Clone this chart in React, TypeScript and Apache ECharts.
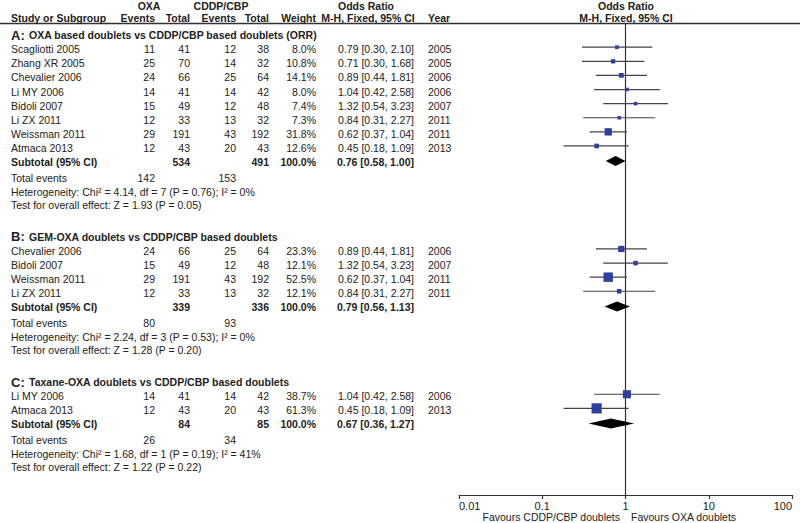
import { useEffect, useRef } from "react";
import * as echarts from "echarts";

// ---------------- DATA ----------------
const groupLetters = ["A:", "B:", "C:"];
const groupTitles = [
  "OXA based doublets vs CDDP/CBP based doublets (ORR)",
  "GEM-OXA doublets vs CDDP/CBP based doublets",
  "Taxane-OXA doublets vs CDDP/CBP based doublets",
];
const studyNames = [
  "Scagliotti 2005", "Zhang XR 2005", "Chevalier 2006", "Li MY 2006", "Bidoli 2007", "Li ZX 2011", "Weissman 2011", "Atmaca 2013",
  "Chevalier 2006", "Bidoli 2007", "Weissman 2011", "Li ZX 2011",
  "Li MY 2006", "Atmaca 2013",
];
const studyGroup = [0, 0, 0, 0, 0, 0, 0, 0, 1, 1, 1, 1, 2, 2];
const oxaEvents = [11, 25, 24, 14, 15, 12, 29, 12, 24, 15, 29, 12, 14, 12];
const oxaTotal = [41, 70, 66, 41, 49, 33, 191, 43, 66, 49, 191, 33, 41, 43];
const cddpEvents = [12, 14, 25, 14, 12, 13, 43, 20, 25, 12, 43, 13, 14, 20];
const cddpTotal = [38, 32, 64, 42, 48, 32, 192, 43, 64, 48, 192, 32, 42, 43];
const weights = [8.0, 10.8, 14.1, 8.0, 7.4, 7.3, 31.8, 12.6, 23.3, 12.1, 52.5, 12.1, 38.7, 61.3];
const oddsRatios = [0.79, 0.71, 0.89, 1.04, 1.32, 0.84, 0.62, 0.45, 0.89, 1.32, 0.62, 0.84, 1.04, 0.45];
const ciLow = [0.30, 0.30, 0.44, 0.42, 0.54, 0.31, 0.37, 0.18, 0.44, 0.54, 0.37, 0.31, 0.42, 0.18];
const ciHigh = [2.10, 1.68, 1.81, 2.58, 3.23, 2.27, 1.04, 1.09, 1.81, 3.23, 1.04, 2.27, 2.58, 1.09];
const years = [2005, 2005, 2006, 2006, 2007, 2011, 2011, 2013, 2006, 2007, 2011, 2011, 2006, 2013];

const subOxaTotal = [534, 339, 84];
const subCddpTotal = [491, 336, 85];
const subOR = [0.76, 0.79, 0.67];
const subLow = [0.58, 0.56, 0.36];
const subHigh = [1.00, 1.13, 1.27];
const totalEventsOxa = [142, 80, 26];
const totalEventsCddp = [153, 93, 34];
const heterogeneity = [
  "Heterogeneity: Chi\u00b2 = 4.14, df = 7 (P = 0.76); I\u00b2 = 0%",
  "Heterogeneity: Chi\u00b2 = 2.24, df = 3 (P = 0.53); I\u00b2 = 0%",
  "Heterogeneity: Chi\u00b2 = 1.68, df = 1 (P = 0.19); I\u00b2 = 41%",
];
const overallTests = [
  "Test for overall effect: Z = 1.93 (P = 0.05)",
  "Test for overall effect: Z = 1.28 (P = 0.20)",
  "Test for overall effect: Z = 1.22 (P = 0.22)",
];
const xTickLabels = ["0.01", "0.1", "1", "10", "100"];
const favoursLeft = "Favours CDDP/CBP doublets";
const favoursRight = "Favours OXA doublets";

// ---------------- LAYOUT ----------------
const FONT = '"Liberation Sans", Arial, sans-serif';
const F = (size: number, bold = false) => `${bold ? "bold " : ""}${size}px ${FONT}`;
const TXT = "#222";
const COL = { name: 11, oxaEv: 155, oxaTot: 190, cdEv: 236, cdTot: 269, weight: 316, or: 414, year: 428 };

const fmt2 = (v: number) => v.toFixed(2);
const ciText = (o: number, l: number, h: number) => `${fmt2(o)} [${fmt2(l)}, ${fmt2(h)}]`;

type Cell = { text: string; x: number; align: string; font: string };
type Row = { row: number; cells: Cell[] };

const tableRows: Row[] = [];
const studyMarks: number[][] = [];
const diamondMarks: number[][] = [];
{
  let r = 0;
  for (let g = 0; g < 3; g++) {
    tableRows.push({
      row: r,
      cells: [
        { text: groupLetters[g], x: COL.name, align: "left", font: F(13, true) },
        { text: groupTitles[g], x: COL.name + 18, align: "left", font: F(10.5, true) },
      ],
    });
    const idx = studyGroup.map((gg, i) => (gg === g ? i : -1)).filter((i) => i >= 0);
    idx.forEach((i, k) => {
      const rr = r + 1 + k;
      tableRows.push({
        row: rr,
        cells: [
          { text: studyNames[i], x: COL.name, align: "left", font: F(10.5) },
          { text: String(oxaEvents[i]), x: COL.oxaEv, align: "right", font: F(10.5) },
          { text: String(oxaTotal[i]), x: COL.oxaTot, align: "right", font: F(10.5) },
          { text: String(cddpEvents[i]), x: COL.cdEv, align: "right", font: F(10.5) },
          { text: String(cddpTotal[i]), x: COL.cdTot, align: "right", font: F(10.5) },
          { text: weights[i].toFixed(1) + "%", x: COL.weight, align: "right", font: F(10.5) },
          { text: ciText(oddsRatios[i], ciLow[i], ciHigh[i]), x: COL.or, align: "right", font: F(10.5) },
          { text: String(years[i]), x: COL.year, align: "left", font: F(10.5) },
        ],
      });
      studyMarks.push([oddsRatios[i], rr, ciLow[i], ciHigh[i], weights[i]]);
    });
    const n = idx.length;
    const sRow = r + 1 + n;
    tableRows.push({
      row: sRow,
      cells: [
        { text: "Subtotal (95% CI)", x: COL.name, align: "left", font: F(10.5, true) },
        { text: String(subOxaTotal[g]), x: COL.oxaTot, align: "right", font: F(10.5, true) },
        { text: String(subCddpTotal[g]), x: COL.cdTot, align: "right", font: F(10.5, true) },
        { text: "100.0%", x: COL.weight, align: "right", font: F(10.5, true) },
        { text: ciText(subOR[g], subLow[g], subHigh[g]), x: COL.or, align: "right", font: F(10.5, true) },
      ],
    });
    diamondMarks.push([subOR[g], sRow, subLow[g], subHigh[g]]);
    tableRows.push({
      row: sRow + 1.1,
      cells: [
        { text: "Total events", x: COL.name, align: "left", font: F(10.5) },
        { text: String(totalEventsOxa[g]), x: COL.oxaEv, align: "right", font: F(10.5) },
        { text: String(totalEventsCddp[g]), x: COL.cdEv, align: "right", font: F(10.5) },
      ],
    });
    tableRows.push({ row: sRow + 2.1, cells: [{ text: heterogeneity[g], x: COL.name, align: "left", font: F(10.5) }] });
    tableRows.push({ row: sRow + 3.05, cells: [{ text: overallTests[g], x: COL.name, align: "left", font: F(10.5) }] });
    r = sRow + 3.05 + 2.25;
  }
}

const HEADER_LINE_Y = 23.5;
const Y_MIN = -1;
const Y_MAX = 32.6;
const GRID_TOP = 21;
const GRID_BOTTOM = 28;
const headerRowTop = -0.82;

export default function App() {
  const ref = useRef<HTMLDivElement>(null);
  useEffect(() => {
    if (!ref.current) return;
    const chart = echarts.init(ref.current, null, { renderer: "svg" });

    const hdr = (text: string, x: number, y: number, align: string) => ({
      type: "text",
      x,
      y,
      silent: true,
      style: { text, font: F(10.5, true), fill: TXT, align, verticalAlign: "middle" },
    });

    chart.setOption({
      animation: false,
      backgroundColor: "#fff",
      grid: { left: 459, right: 8, top: GRID_TOP, bottom: GRID_BOTTOM },
      xAxis: {
        type: "log",
        logBase: 10,
        min: 0.01,
        max: 100,
        position: "bottom",
        axisLine: { show: true, onZero: false, lineStyle: { color: "#333", width: 1.2 } },
        axisTick: { show: true, length: 4, lineStyle: { color: "#333", width: 1.2 } },
        minorTick: { show: false },
        splitLine: { show: false },
        axisLabel: {
          color: TXT,
          fontSize: 11,
          fontFamily: FONT,
          margin: 5,
          alignMinLabel: "left",
          alignMaxLabel: "right",
          formatter: (v: number) => xTickLabels[Math.round(Math.log10(v)) + 2] ?? "",
        },
      },
      yAxis: { type: "value", inverse: true, min: Y_MIN, max: Y_MAX, show: false },
      graphic: [
        { type: "line", silent: true, shape: { x1: 0, y1: HEADER_LINE_Y, x2: 800, y2: HEADER_LINE_Y }, style: { stroke: "#333", lineWidth: 1.5 } },
        hdr("OXA", 149, 6, "center"),
        hdr("CDDP/CBP", 221, 6, "center"),
        hdr("Odds Ratio", 366, 6, "center"),
        hdr("Odds Ratio", 626, 6, "center"),
        hdr("Study or Subgroup", COL.name, 17.5, "left"),
        hdr("Events", COL.oxaEv, 17.5, "right"),
        hdr("Total", COL.oxaTot, 17.5, "right"),
        hdr("Events", COL.cdEv, 17.5, "right"),
        hdr("Total", COL.cdTot, 17.5, "right"),
        hdr("Weight", COL.weight, 17.5, "right"),
        hdr("M-H, Fixed, 95% CI", 368, 17.5, "center"),
        hdr("Year", COL.year, 17.5, "left"),
        hdr("M-H, Fixed, 95% CI", 626, 17.5, "center"),
        { type: "text", x: 620, y: 517, silent: true, style: { text: favoursLeft, font: F(10.5), fill: TXT, align: "right", verticalAlign: "middle" } },
        { type: "text", x: 631, y: 517, silent: true, style: { text: favoursRight, font: F(10.5), fill: TXT, align: "left", verticalAlign: "middle" } },
      ],
      series: [
        {
          type: "custom",
          name: "table",
          silent: true,
          clip: false,
          data: tableRows.map((t) => [1, t.row]),
          renderItem: (params: any, api: any) => {
            const t = tableRows[params.dataIndex];
            const y = api.coord([1, api.value(1)])[1];
            return {
              type: "group",
              children: t.cells.map((c) => ({
                type: "text",
                x: c.x,
                y,
                style: { text: c.text, font: c.font, fill: TXT, align: c.align, verticalAlign: "middle" },
              })),
            };
          },
        },
        {
          type: "custom",
          name: "nullLine",
          silent: true,
          clip: false,
          data: [[1, headerRowTop, Y_MAX]],
          renderItem: (_p: any, api: any) => {
            const a = api.coord([api.value(0), api.value(1)]);
            const b = api.coord([api.value(0), api.value(2)]);
            return { type: "line", shape: { x1: a[0], y1: a[1], x2: b[0], y2: b[1] }, style: { stroke: "#333", lineWidth: 1.2 } };
          },
        },
        {
          type: "custom",
          name: "studies",
          silent: true,
          data: studyMarks,
          renderItem: (_p: any, api: any) => {
            const c = api.coord([api.value(0), api.value(1)]);
            const l = api.coord([api.value(2), api.value(1)]);
            const h = api.coord([api.value(3), api.value(1)]);
            const s = 1.3 * Math.sqrt(api.value(4));
            const y = c[1] - 2;
            return {
              type: "group",
              children: [
                { type: "line", shape: { x1: l[0], y1: y, x2: h[0], y2: y }, style: { stroke: "#444", lineWidth: 1.2 } },
                { type: "rect", shape: { x: c[0] - s / 2, y: y - s / 2, width: s, height: s }, style: { fill: "#2f3f9f" } },
              ],
            };
          },
        },
        {
          type: "custom",
          name: "subtotals",
          silent: true,
          data: diamondMarks,
          renderItem: (_p: any, api: any) => {
            const c = api.coord([api.value(0), api.value(1)]);
            const l = api.coord([api.value(2), api.value(1)]);
            const h = api.coord([api.value(3), api.value(1)]);
            const y = c[1] - 1;
            const hh = 5;
            return {
              type: "polygon",
              shape: { points: [[l[0], y], [c[0], y - hh], [h[0], y], [c[0], y + hh]] },
              style: { fill: "#000" },
            };
          },
        },
      ],
    });
    return () => chart.dispose();
  }, []);
  return <div ref={ref} style={{ position: "fixed", left: 0, top: 0, width: 800, height: 523, background: "#fff" }} />;
}
